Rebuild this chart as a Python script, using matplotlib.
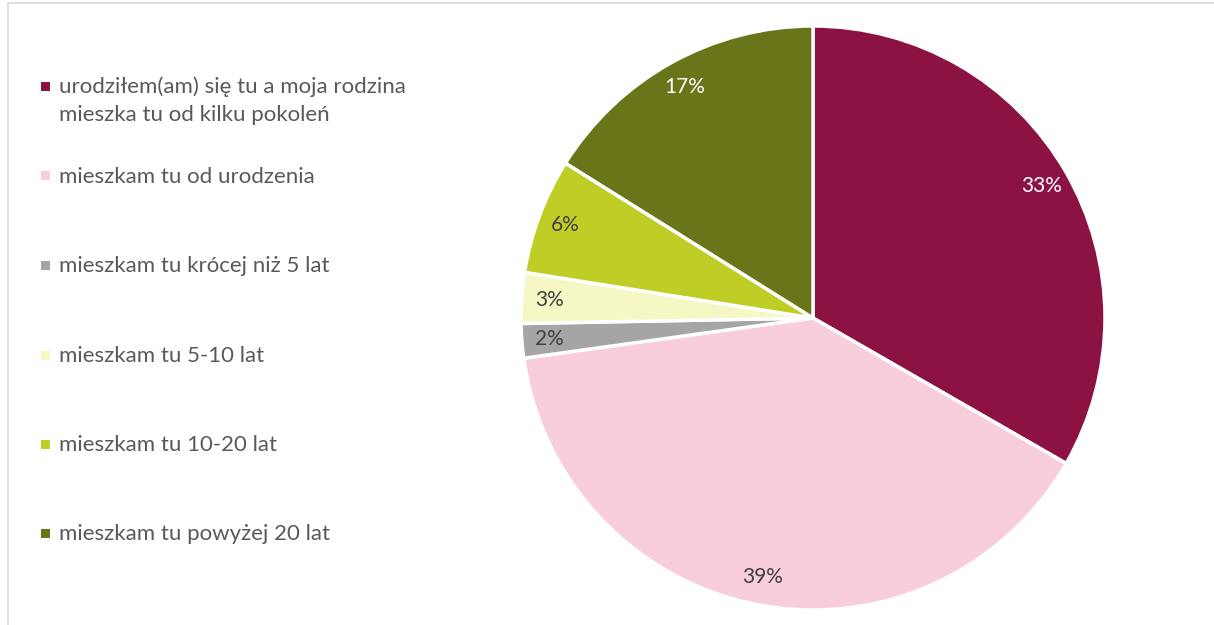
import numpy as np
import matplotlib.pyplot as plt
from matplotlib.patches import Rectangle

plt.rcParams['font.family'] = ['Lato', 'DejaVu Sans']

# Data
categories = [
    "urodziłem(am) się tu a moja rodzina\nmieszka tu od kilku pokoleń",
    "mieszkam tu od urodzenia",
    "mieszkam tu krócej niż 5 lat",
    "mieszkam tu 5-10 lat",
    "mieszkam tu 10-20 lat",
    "mieszkam tu powyżej 20 lat",
]
shares = [33.3, 39.5, 1.9, 2.8, 6.4, 16.1]
labels_pct = ["33%", "39%", "2%", "3%", "6%", "17%"]

colors = ['#8C1244', '#F8CEDD', '#A5A5A5', '#F5F8C4', '#BFCD27', '#6A7418']
label_colors = ['white', '#404040', '#404040', '#404040', '#404040', 'white']

W, H = 1214, 625
fig = plt.figure(figsize=(W / 100, H / 100), dpi=100)

# light gray frame of the chart area
fig.patches.append(Rectangle((8 / W, -0.1), 1.2, (H - 3) / H + 0.1, transform=fig.transFigure,
                             fill=False, edgecolor='#D9D9D9', linewidth=1.2))

# pie axes: centre (813, 318) px, radius 292 px
cx, cy, r = 813, 318, 292
ax = fig.add_axes([(cx - r) / W, (H - cy - r) / H, 2 * r / W, 2 * r / H])
wedges, _ = ax.pie(shares, colors=colors, startangle=90, counterclock=False,
                   wedgeprops=dict(edgecolor='white', linewidth=2.5))
ax.set_xlim(-1, 1)
ax.set_ylim(-1, 1)
ax.set_aspect('equal')

total = sum(shares)
angle = 90.0
for w, txt, col in zip(shares, labels_pct, label_colors):
    span = w / total * 360
    mid = np.deg2rad(angle - span / 2)
    angle -= span
    ax.text(0.905 * np.cos(mid), 0.905 * np.sin(mid), txt, ha='center', va='center',
            fontsize=15, color=col)

# legend drawn by hand
legend_y = [86, 176, 265, 355, 444, 533]
for y, lab, col in zip(legend_y, categories, colors):
    fig.patches.append(Rectangle((41 / W, (H - y - 4.5) / H), 9 / W, 9 / H,
                                 transform=fig.transFigure, facecolor=col, edgecolor='none'))
    first = lab.split("\n")
    for i, line in enumerate(first):
        fig.text(59 / W, (H - y - 7 - 28 * i) / H, line, ha='left', va='baseline',
                 fontsize=16, color='#595959')

fig.savefig('out.png', dpi=100)
